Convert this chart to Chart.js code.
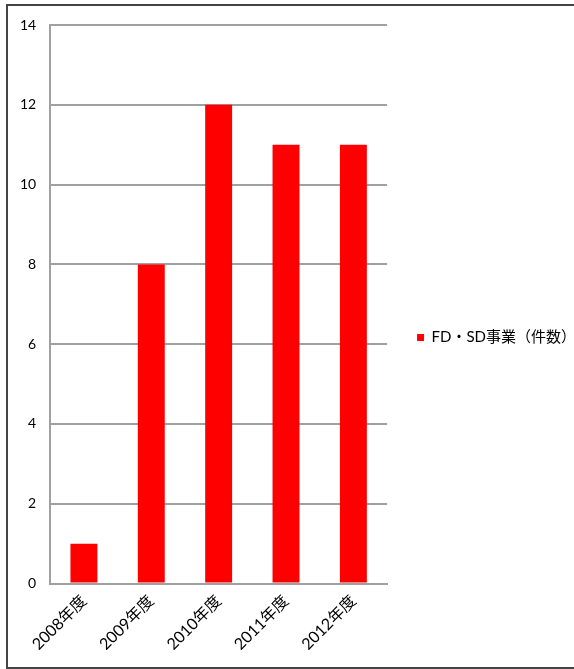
<!DOCTYPE html>
<html>
<head>
<meta charset="utf-8">
<script src="https://cdn.jsdelivr.net/npm/chart.js@4/dist/chart.umd.min.js"></script>
<style>
  html, body { margin: 0; padding: 0; background: #fff; overflow: hidden; }
  #frame { position: absolute; left: 6px; top: 4px; width: 600px; height: 661px; border: 2px solid #444; border-right: none; }
  #chart { position: absolute; left: 0; top: 0; }
</style>
</head>
<body>
<div id="frame"></div>
<canvas id="chart" width="574" height="669"></canvas>
<script>
const years = ['2008年度', '2009年度', '2010年度', '2011年度', '2012年度']
const counts = [1, 8, 12, 11, 11]
const seriesName = 'FD・SD事業（件数）'

const fontFam = "Lato, 'Noto Sans CJK JP', sans-serif"

const ctx = document.getElementById('chart').getContext('2d');
const myChart = new Chart(ctx, {
    type: 'bar',
    data: {
        labels: years,
        datasets: [{
            label: seriesName,
            data: counts,
            backgroundColor: '#ff0000',
            borderWidth: 0,
            categoryPercentage: 0.8,
            barPercentage: 0.5
        }]
    },
    options: {
        responsive: false,
        animation: false,
        devicePixelRatio: 1,
        // legend is wider than its text, let it run past the right edge
        layout: { padding: { left: 6, top: 25, right: -12, bottom: 19 } },
        plugins: {
            tooltip: { enabled: false },
            legend: {
                position: 'right',
                maxWidth: 300,
                labels: {
                    boxWidth: 7,
                    boxHeight: 7,
                    padding: 30,
                    color: '#000',
                    font: { family: fontFam, size: 15 }
                }
            }
        },
        scales: {
            x: {
                // give back the extra bottom padding so the labels keep their place
                afterFit: function(scale) { scale.height -= 12 },
                grid: { display: false, drawTicks: false },
                border: { color: '#a0a0a0', width: 2 },
                ticks: {
                    color: '#000',
                    minRotation: 45,
                    maxRotation: 45,
                    padding: 8,
                    font: { family: fontFam, size: 16 }
                }
            },
            y: {
                min: 0,
                max: 14,
                grid: { color: '#a0a0a0', lineWidth: 2, drawTicks: false },
                border: { color: '#a0a0a0', width: 2 },
                ticks: {
                    stepSize: 2,
                    color: '#000',
                    padding: 14,
                    font: { family: fontFam, size: 14 }
                }
            }
        }
    }
});
</script>
</body>
</html>
